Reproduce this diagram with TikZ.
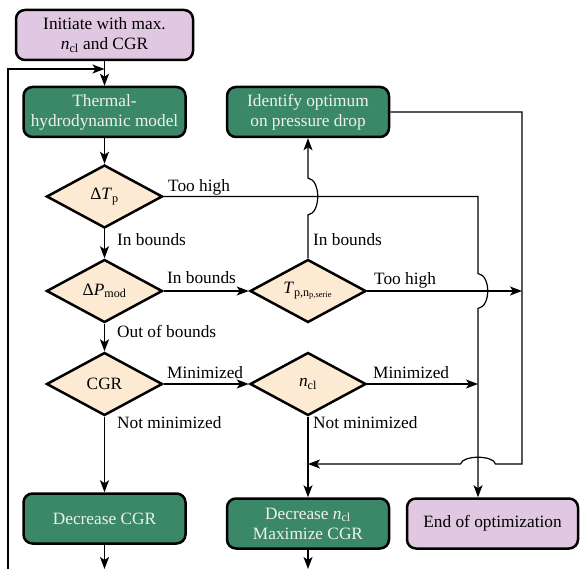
\documentclass[tikz,border=0pt]{standalone}
\usepackage{fontspec}
\setmainfont{Liberation Serif}
\newfontfamily\diagfont{Liberation Serif}
\usetikzlibrary{shapes.geometric,arrows.meta}
\definecolor{boxgreen}{RGB}{58,136,104}
\definecolor{boxpink}{RGB}{224,200,226}
\definecolor{diafill}{RGB}{253,234,210}
\definecolor{boxtext}{RGB}{240,242,228}
\begin{document}
\begin{tikzpicture}[x=1pt,y=-1pt,font=\diagfont\fontsize{17.3}{20}\selectfont]
	\tikzstyle{proc}=[rectangle, rounded corners=9pt, line width=2.5pt, draw=black, align=center, minimum width=162pt, minimum height=50pt, inner sep=2pt]
	\tikzstyle{model}=[proc, fill=boxgreen, text=boxtext]
	\tikzstyle{term}=[proc, fill=boxpink]
	\tikzstyle{test}=[diamond, line width=2.5pt, draw=black, fill=diafill, minimum width=116pt, minimum height=63pt, inner sep=0pt, aspect=1.84]
	\tikzstyle{connect}=[-{Stealth[length=12pt,width=9pt,inset=3pt]}, line width=1.2pt]
	\tikzstyle{lbl}=[inner sep=0pt, anchor=base west]
	\useasboundingbox (0,0) rectangle (580,569);
	\node[term, minimum width=177pt] (init) at (104.5,35) {Initiate with max.\\\textit{n}\textsubscript{cl} and CGR};
	\node[model] (thermal) at (104.5,112) {Thermal-\\hydrodynamic model};
	\node[model] (ident) at (308,112) {Identify optimum\\on pressure drop};
	\node[test] (dtp) at (104.5,196.5) {Δ\textit{T}\textsubscript{p}};
	\node[test] (dpm) at (104.5,291) {Δ\textit{P}\textsubscript{mod}};
	\node[test] (tp) at (308,291) {\textit{T}\textsubscript{p,n\textsubscript{p,serie}}};
	\node[test] (cgr) at (104.5,384) {CGR};
	\node[test] (ncl) at (308,384) {\textit{n}\textsubscript{cl}};
	\node[model] (deccgr) at (104.5,518.5) {Decrease CGR};
	\node[model] (decncl) at (308,523.5) {Decrease \textit{n}\textsubscript{cl}\\Maximize CGR};
	\node[term, minimum width=171pt] (endopt) at (492.5,523.5) {End of optimization};
	\coordinate (rail) at (478,196.5);
	\coordinate (railR) at (522,112);
	\coordinate (ret) at (522,464);
	\coordinate (xA) at (tp |- dtp);
	\coordinate (xB) at (rail |- tp);
	\coordinate (xC) at (rail |- ret);
	\coordinate (loopB) at (8,569);
	\coordinate (loopT) at (8,69);
	\path (init) edge [connect] (thermal)
	(thermal) edge [connect] (dtp)
	(dtp) edge [connect] (dpm)
	(dpm) edge [connect] (cgr)
	(dpm) edge [connect] (tp)
	(cgr) edge [connect] (ncl)
	(cgr) edge [connect] (deccgr)
	(ncl) edge [connect] (decncl)
	(tp) edge [connect] (tp -| railR)
	(ncl) edge [connect] (ncl -| rail)
	(deccgr) edge [connect] (deccgr |- loopB)
	(decncl) edge [connect] (decncl |- loopB);
	\draw[connect] (tp.north) -- ([yshift=-18.5pt]xA) .. controls +(13,-2) and +(13,2) .. ([yshift=18.5pt]xA) -- (ident.south);
	\draw[connect] (dtp.east) -| ([yshift=17.5pt]xB) .. controls +(13,2) and +(13,-2) .. ([yshift=-17.5pt]xB) -- (xB |- endopt.north);
	\draw[connect] (ident.east) -| (ret) -- ([xshift=17.5pt]xC) .. controls +(-2,-9) and +(2,-9) .. ([xshift=-17.5pt]xC) -- (ncl |- ret);
	\draw[connect] (loopB) -- (loopT) -- (loopT -| init);
	\node[lbl] (tooA) at (168,192) {Too high};
	\node[lbl] (inA) at (117,245) {In bounds};
	\node[lbl] (inB) at (167,283.5) {In bounds};
	\node[lbl] (outA) at (117,337) {Out of bounds};
	\node[lbl] (inC) at (313,245.5) {In bounds};
	\node[lbl] (tooB) at (374,284) {Too high};
	\node[lbl] (minA) at (167,378) {Minimized};
	\node[lbl] (notA) at (117,428.5) {Not minimized};
	\node[lbl] (minB) at (373,378) {Minimized};
	\node[lbl] (notB) at (313,428.5) {Not minimized};
\end{tikzpicture}
\end{document}
